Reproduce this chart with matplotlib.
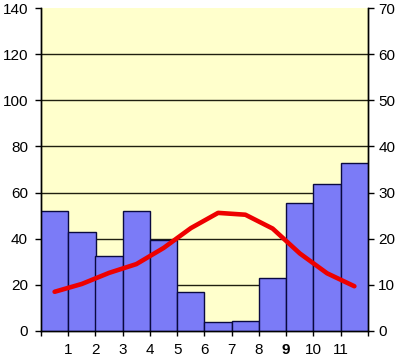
import matplotlib
matplotlib.use("Agg")
import matplotlib.pyplot as plt
import numpy as np

months = list(range(1, 13))
precip = [52, 43, 32.5, 52, 39.5, 17, 3.9, 4.5, 22.8, 55.6, 63.8, 72.8]
temp = [8.5, 10.2, 12.6, 14.5, 18.0, 22.3, 25.6, 25.2, 22.2, 16.8, 12.5, 9.7]
xtick_labels = ["1", "2", "3", "4", "5", "6", "7", "8", "9", "10", "11"]
left_ticks = [0, 20, 40, 60, 80, 100, 120, 140]
right_ticks = [0, 10, 20, 30, 40, 50, 60, 70]

plt.rcParams['font.family'] = ['Liberation Sans', 'DejaVu Sans']
FS = 11

fig = plt.figure(figsize=(4.01, 3.59), dpi=100)
ax = fig.add_axes([41/401, 28/359, 327/401, 323/359])
ax.set_facecolor('#FFFFCC')

x = np.arange(len(months)) + 0.5
ax.bar(x, precip, width=1.0, color='#7B7BF7', edgecolor='#0A0A40', linewidth=1.0, zorder=3)
ax.set_xlim(0, 12)
ax.set_ylim(0, 140)
ax.set_yticks(left_ticks)
ax.set_yticklabels([str(t) for t in left_ticks], fontsize=FS)
for t in left_ticks[1:-1]:
    ax.axhline(t, color='#202010', linewidth=1.0, zorder=1)

ax.set_xticks(range(0, 13))
ax.set_xticklabels([""] + xtick_labels + [""], fontsize=FS)
for lbl in ax.get_xticklabels():
    if lbl.get_text() == "9":
        lbl.set_fontweight('bold')
ax.tick_params(axis='y', direction='out', length=4.3, width=1, colors='black', pad=5)
ax.tick_params(axis='x', direction='out', length=3.6, width=1, colors='black', pad=5)

ax2 = ax.twinx()
ax2.plot(x, temp, color='#EE0000', linewidth=3.3, solid_capstyle='round', zorder=5)
ax2.set_ylim(0, 70)
ax2.set_yticks(right_ticks)
ax2.set_yticklabels([str(t) for t in right_ticks], fontsize=FS)
ax2.tick_params(axis='y', direction='out', length=4.3, width=1, pad=3)

for a in (ax, ax2):
    a.spines['top'].set_visible(False)
    for s in ('left', 'right', 'bottom'):
        a.spines[s].set_linewidth(1.0)
        a.spines[s].set_color('black')

fig.savefig('out.png', dpi=100, facecolor='white')
